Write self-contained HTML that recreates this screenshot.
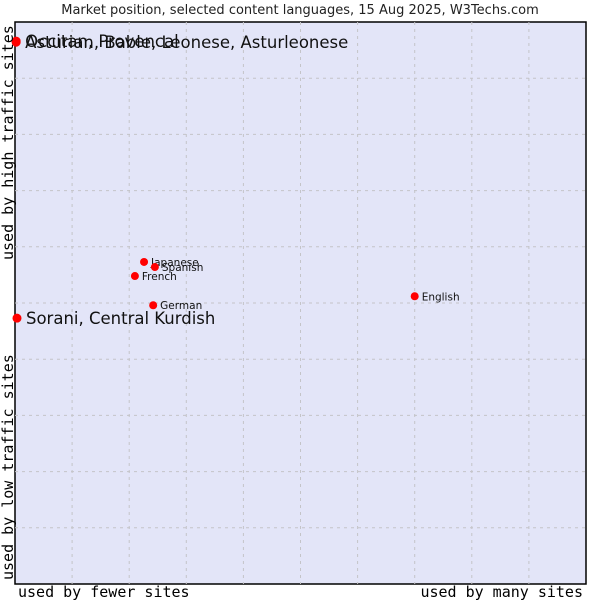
<!DOCTYPE html>
<html><head><meta charset="utf-8"><style>
body{margin:0;background:#fff;width:600px;height:600px;overflow:hidden}
svg text{font-family:"DejaVu Sans","Liberation Sans",sans-serif}
.mono{font-family:"DejaVu Sans Mono","Liberation Mono",monospace}
</style></head><body>
<svg id="chart" width="600" height="600" xmlns="http://www.w3.org/2000/svg">
<text x="300" y="14" text-anchor="middle" font-size="13" fill="#222">Market position, selected content languages, 15 Aug 2025, W3Techs.com</text>
<rect x="15" y="22" width="571" height="562" fill="#e3e5f8" stroke="#000" stroke-width="1.5"/>
<g id="grid"></g>
<g id="points"></g>
<text class="mono" x="18" y="597" font-size="15" fill="#000">used by fewer sites</text>
<text class="mono" x="583" y="597" font-size="15" text-anchor="end" fill="#000">used by many sites</text>
<text class="mono" transform="translate(13,260) rotate(-90)" font-size="15" fill="#000">used by high traffic sites</text>
<text class="mono" transform="translate(13,580) rotate(-90)" font-size="15" fill="#000">used by low traffic sites</text>
</svg>
<script>
const names = ["Occitan, Provencal","Asturian, Bable, Leonese, Asturleonese","Sorani, Central Kurdish","Japanese","Spanish","French","German","English"];
const xValues = [0.2,0.2,0.35,22.6,24.5,21,24.2,70];
const yValues = [96.6,96.4,47.3,57.3,56.4,54.8,49.6,51.2];
const bigLabel = [true,true,true,false,false,false,false,false];
const X0=15,X1=586,Y0=584,Y1=22;
function sx(v){return X0+(X1-X0)*v/100;}
function sy(v){return Y0-(Y0-Y1)*v/100;}
const NS="http://www.w3.org/2000/svg";
const grid=document.getElementById('grid');
for(let i=1;i<10;i++){
  const l=document.createElementNS(NS,'line');
  
  
  l.setAttribute('x1',sx(i*10));l.setAttribute('x2',sx(i*10));l.setAttribute('y1',Y1);l.setAttribute('y2',Y0);
  l.setAttribute('stroke','#c4c4c8');l.setAttribute('stroke-dasharray','3,4');
  grid.appendChild(l);
  const h=document.createElementNS(NS,'line');
  
  
  h.setAttribute('y1',sy(i*10));h.setAttribute('y2',sy(i*10));h.setAttribute('x1',X0);h.setAttribute('x2',X1);
  h.setAttribute('stroke','#c4c4c8');h.setAttribute('stroke-dasharray','3,4');
  grid.appendChild(h);
}
const pts=document.getElementById('points');
for(let i=0;i<names.length;i++){
  const x=sx(xValues[i]),y=sy(yValues[i]);
  const d=document.createElementNS(NS,'circle');
  
  
  d.setAttribute('cx',x);d.setAttribute('cy',y);
  d.setAttribute('r',bigLabel[i]?4.5:4);
  d.setAttribute('fill','#ff0000');
  pts.appendChild(d);
  const t=document.createElementNS(NS,'text');
  
  
  t.setAttribute('x',x+(bigLabel[i]?9:7));
  t.setAttribute('y',y+(bigLabel[i]?6:4));
  t.setAttribute('font-size',bigLabel[i]?'16.5':'10.5');
  t.setAttribute('fill','#111');
  t.textContent=names[i];
  pts.appendChild(t);
}
</script>
</body></html>
